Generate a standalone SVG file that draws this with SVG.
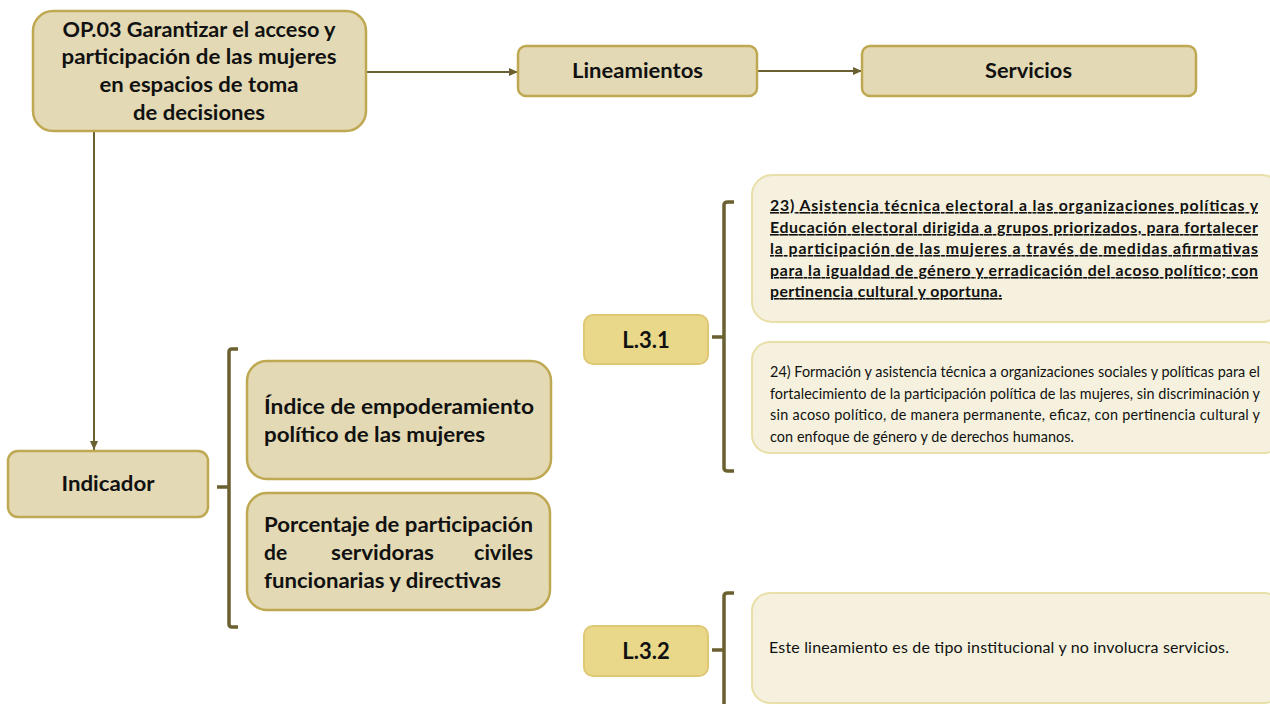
<svg xmlns="http://www.w3.org/2000/svg" width="1270" height="704" viewBox="0 0 1270 704">
<defs>
<marker id="arr" markerWidth="10" markerHeight="10" refX="9" refY="5" orient="auto" markerUnits="userSpaceOnUse">
<path d="M0,1 L9,5 L0,9 Z" fill="#6b6030"/>
</marker>
<style>
.main{fill:#e3dab5;stroke:#bfa852;stroke-width:2.5}
.lin{fill:#e9d88a;stroke:#dfc874;stroke-width:2}
.svc{fill:#f5f1de;stroke:#e9dfa8;stroke-width:2}
.conn{fill:none;stroke:#6b6030;stroke-width:2}
.br{fill:none;stroke:#6b6030;stroke-width:3.5}
text{font-family:Lato,"Open Sans","Liberation Sans",sans-serif;fill:#111}
.b{font-weight:bold}
.c{text-anchor:middle}
.u{text-decoration:underline}
</style>
</defs>
<rect width="1270" height="704" fill="#fff"/>
<g id="connectors">
<path class="conn" d="M366,72 L518,72" marker-end="url(#arr)"/>
<path class="conn" d="M757,71 L862,71" marker-end="url(#arr)"/>
<path class="conn" d="M94,131 L94,450" marker-end="url(#arr)"/>
<path class="br" d="M238,349 L232,349 Q229,349 229,352 L229,624 Q229,627 232,627 L238,627 M217,487 L229,487"/>
<path class="br" d="M734,202 L728,202 Q724,202 724,205 L724,468 Q724,471 728,471 L734,471 M712,337 L724,337"/>
<path class="br" d="M734,593 L728,593 Q724,593 724,596 L724,706 M712,650 L724,650"/>
</g>
<g id="op03">
<rect class="main" x="33" y="11" width="333" height="120" rx="20"/>
<text class="b c" font-size="20.5"><tspan x="199" y="37" textLength="273" lengthAdjust="spacingAndGlyphs">OP.03 Garantizar el acceso y</tspan><tspan x="199" y="64" textLength="275" lengthAdjust="spacingAndGlyphs">participación de las mujeres</tspan><tspan x="199" y="92" textLength="199" lengthAdjust="spacingAndGlyphs">en espacios de toma</tspan><tspan x="199" y="120" textLength="132" lengthAdjust="spacingAndGlyphs">de decisiones</tspan></text>
</g>
<g id="lineamientos">
<rect class="main" x="518" y="46" width="239" height="50" rx="8"/>
<text class="b c" font-size="20" x="637.5" y="78" textLength="131" lengthAdjust="spacingAndGlyphs">Lineamientos</text>
</g>
<g id="servicios">
<rect class="main" x="862" y="46" width="334" height="50" rx="8"/>
<text class="b c" font-size="20" x="1028.5" y="78" textLength="87" lengthAdjust="spacingAndGlyphs">Servicios</text>
</g>
<g id="indicador">
<rect class="main" x="8" y="451" width="200" height="66" rx="10"/>
<text class="b c" font-size="20" x="108" y="491" textLength="93" lengthAdjust="spacingAndGlyphs">Indicador</text>
</g>
<g id="ind1">
<rect class="main" x="247" y="361" width="304" height="118" rx="20"/>
<text class="b" font-size="21"><tspan x="264" y="414" textLength="270" lengthAdjust="spacingAndGlyphs">Índice de empoderamiento</tspan><tspan x="264" y="442" textLength="221" lengthAdjust="spacingAndGlyphs">político de las mujeres</tspan></text>
</g>
<g id="ind2">
<rect class="main" x="247" y="493" width="303" height="117" rx="20"/>
<text class="b" font-size="21"><tspan x="264" y="532" textLength="269" lengthAdjust="spacingAndGlyphs">Porcentaje de participación</tspan><tspan x="264" y="560">de</tspan><tspan x="331" y="560" textLength="103" lengthAdjust="spacingAndGlyphs">servidoras</tspan><tspan x="474" y="560" textLength="59" lengthAdjust="spacingAndGlyphs">civiles</tspan><tspan x="264" y="588" textLength="237" lengthAdjust="spacingAndGlyphs">funcionarias y directivas</tspan></text>
</g>
<g id="l31">
<rect class="lin" x="584" y="315" width="124" height="49" rx="9"/>
<text class="b c" font-size="22" x="646" y="348">L.3.1</text>
</g>
<g id="l32">
<rect class="lin" x="584" y="626" width="124" height="50" rx="9"/>
<text class="b c" font-size="22" x="646" y="659">L.3.2</text>
</g>
<g id="s23">
<rect class="svc" x="752" y="175" width="530" height="147" rx="20"/>
<text class="b u" font-size="15.8"><tspan x="770" y="211" textLength="488" lengthAdjust="spacing">23) Asistencia técnica electoral a las organizaciones políticas y</tspan><tspan x="770" y="233" textLength="488" lengthAdjust="spacing">Educación electoral dirigida a grupos priorizados, para fortalecer</tspan><tspan x="770" y="254" textLength="488" lengthAdjust="spacing">la participación de las mujeres a través de medidas afirmativas</tspan><tspan x="770" y="276" textLength="488" lengthAdjust="spacing">para la igualdad de género y erradicación del acoso político; con</tspan><tspan x="770" y="297" textLength="232" lengthAdjust="spacing">pertinencia cultural y oportuna.</tspan></text>
</g>
<g id="s24">
<rect class="svc" x="752" y="342" width="530" height="111" rx="18"/>
<text font-size="14.4"><tspan x="770" y="377" textLength="490" lengthAdjust="spacing">24) Formación y asistencia técnica a organizaciones sociales y políticas para el</tspan><tspan x="770" y="399" textLength="490" lengthAdjust="spacing">fortalecimiento de la participación política de las mujeres, sin discriminación y</tspan><tspan x="770" y="420" textLength="490" lengthAdjust="spacing">sin acoso político, de manera permanente, eficaz, con pertinencia cultural y</tspan><tspan x="770" y="442" textLength="304" lengthAdjust="spacing">con enfoque de género y de derechos humanos.</tspan></text>
</g>
<g id="s32">
<rect class="svc" x="752" y="593" width="530" height="110" rx="18"/>
<text font-size="16" x="769" y="653" textLength="460" lengthAdjust="spacing">Este lineamiento es de tipo institucional y no involucra servicios.</text>
</g>
</svg>
